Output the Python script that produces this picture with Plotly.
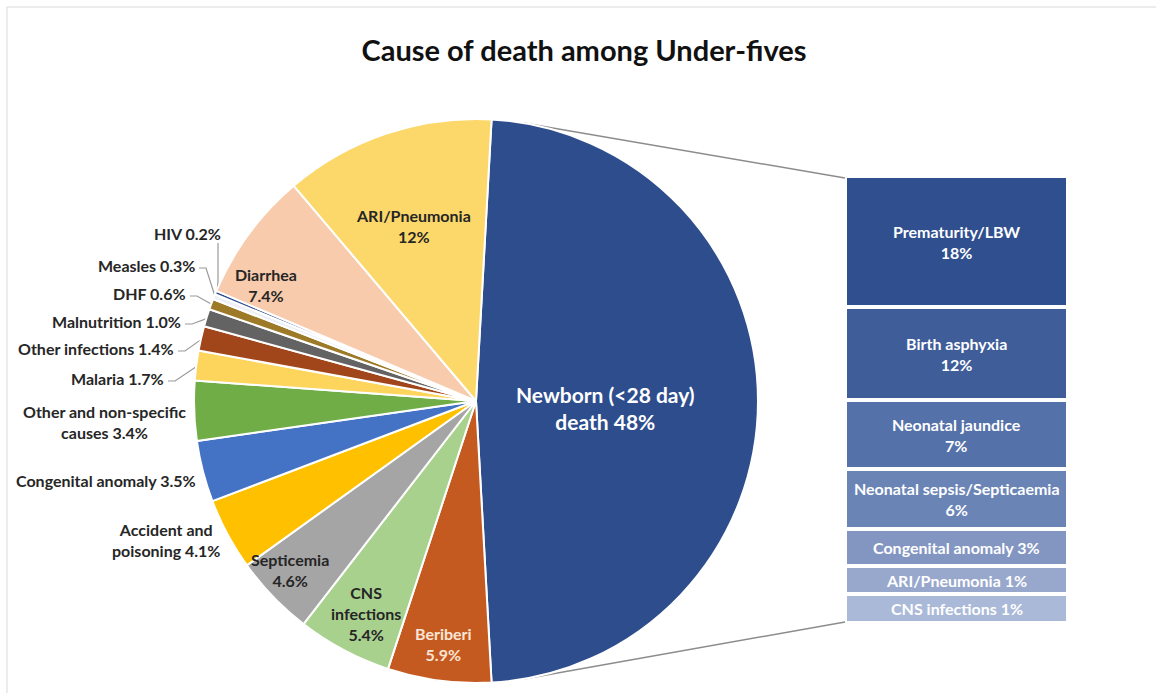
import math
import plotly.graph_objects as go

W, H = 1156, 693

# ---------------- data ----------------
pie_names = ["Newborn (<28 day) death", "Beriberi", "CNS infections", "Septicemia",
             "Accident and poisoning", "Congenital anomaly", "Other and non-specific causes",
             "Malaria", "Other infections", "Malnutrition", "DHF", "Measles", "HIV",
             "Diarrhea", "ARI/Pneumonia"]
pie_values = [48, 5.9, 5.4, 4.6, 4.1, 3.5, 3.4, 1.7, 1.4, 1.0, 0.6, 0.3, 0.2, 7.4, 12]
pie_label_names = ["Newborn (<28 day)<br>death", "Beriberi", "CNS<br>infections", "Septicemia",
                   "Accident and<br>poisoning", "Congenital anomaly", "Other and non-specific<br>causes",
                   "Malaria", "Other infections", "Malnutrition", "DHF", "Measles", "HIV",
                   "Diarrhea", "ARI/Pneumonia"]
pie_colors = ["#2E4D8D", "#C55A20", "#A9D18E", "#A5A5A5", "#FFC000", "#4472C4", "#70AD47",
              "#FDD55C", "#A1461A", "#636363", "#9D7A28", "#EDF0F6", "#2F4F8F", "#F8CBAD", "#FCD86A"]

bar_names = ["Prematurity/LBW", "Birth asphyxia", "Neonatal jaundice", "Neonatal sepsis/Septicaemia",
             "Congenital anomaly", "ARI/Pneumonia", "CNS infections"]
bar_pct = [18, 12, 7, 6, 3, 1, 1]
bar_heights = [14.1, 10.0, 7.4, 6.4, 4.0, 3.0, 3.1]
bar_colors = ["#2F4F8F", "#3E5D99", "#5571A9", "#6A84B6", "#8396C2", "#98A8CD", "#AAB9D8"]

title = "Cause of death among Under-fives"

# ---------------- layout parameters (pixels) ----------------
PIE_CX, PIE_CY, PIE_R = 476, 401, 282
BAR_X0, BAR_X1, BAR_Y0, BAR_Y1 = 845, 1068, 176, 623
FONT = "Lato"
DARK = "#262626"
LBL = 16

# inside labels: index -> (radial fraction, angle offset deg, size, color)
inside_cfg = {
    0: (0.46, -3.0, 21, "white"),
    1: (0.87, 0.0, LBL, "#FBE5D6"),
    2: (0.85, 0.5, LBL, DARK),
    3: (0.89, -1.7, LBL, DARK),
    13: (0.85, 7.4, LBL, DARK),
    14: (0.66, 1.2, LBL, DARK),
}
# outside labels: index -> (x, y, xanchor, leader style)
outside_cfg = {
    12: (223, 233, "right", "down"),
    11: (197, 265, "right", "elbow"),
    10: (188, 293, "right", "elbow"),
    9: (183, 321, "right", "elbow"),
    8: (176, 348, "right", "elbow"),
    7: (166, 378, "right", "elbow"),
    6: (104, 422, "center", None),
    5: (106, 480, "center", None),
    4: (166, 540, "center", None),
}


def fmt_pct(v):
    return f"{v:.0f}%" if v >= 10 else f"{v:.1f}%"


total = sum(pie_values)
fracs = [v / total for v in pie_values]
rotation = 90 - 360 * fracs[0] / 2  # plotly: clockwise from 12 o'clock

start = 90 - rotation
mids = []
cur = start
for f in fracs:
    nxt = cur - 360 * f
    mids.append((cur + nxt) / 2)
    cur = nxt


def on_circle(a_deg, rf=1.0):
    a = math.radians(a_deg)
    return PIE_CX + rf * PIE_R * math.cos(a), PIE_CY - rf * PIE_R * math.sin(a)


fig = go.Figure()

# leader lines
lx, ly = [], []
for i, (tx, ty, anc, style) in outside_cfg.items():
    ex, ey = on_circle(mids[i], 0.995)
    if style == "down":
        lx += [tx - 5, tx - 5, ex, None]
        ly += [ty + 10, ey - 12, ey, None]
    elif style == "elbow":
        lx += [tx + 2, tx + 9, ex, None]
        ly += [ty + 3, ty + 3, ey, None]
fig.add_trace(go.Scatter(x=lx, y=ly, mode="lines", line=dict(color="#9A9A9A", width=1.2),
                         hoverinfo="skip", showlegend=False, xaxis="x", yaxis="y"))

# connector lines (tangent from bar corners to pie circle)
cx_, cy_ = [], []
for (bx, by), sgn in (((BAR_X0, BAR_Y0 + 2), 1), ((BAR_X0, BAR_Y1 - 1), -1)):
    dx, dy = bx - PIE_CX, PIE_CY - by
    d = math.hypot(dx, dy)
    base = math.degrees(math.atan2(dy, dx))
    ang = base + sgn * math.degrees(math.acos(PIE_R / d))
    px, py = on_circle(ang)
    cx_ += [px, bx, None]
    cy_ += [py, by, None]
fig.add_trace(go.Scatter(x=cx_, y=cy_, mode="lines", line=dict(color="#8C8C8C", width=1.5),
                         hoverinfo="skip", showlegend=False, xaxis="x", yaxis="y"))

# bar of pie (stacked)
for n, h, c in zip(bar_names, bar_heights, bar_colors):
    fig.add_trace(go.Bar(x=["Newborn"], y=[h], name=n,
                         marker=dict(color=c, line=dict(color="white", width=4)),
                         hoverinfo="name", showlegend=False, xaxis="x2", yaxis="y2"))

# pie
fig.add_trace(go.Pie(
    labels=pie_names, values=pie_values, sort=False, direction="clockwise", rotation=rotation,
    marker=dict(colors=pie_colors, line=dict(color="white", width=2)),
    textinfo="none", showlegend=False, hoverinfo="label+value",
    domain=dict(x=[(PIE_CX - PIE_R) / W, (PIE_CX + PIE_R) / W],
                y=[(H - PIE_CY - PIE_R) / H, (H - PIE_CY + PIE_R) / H]),
))

annotations = []
for i, (rf, off, size, col) in inside_cfg.items():
    x, y = on_circle(mids[i] + off, rf)
    sep = " " if i == 0 else "<br>"
    annotations.append(dict(x=x, y=y, xref="x", yref="y", showarrow=False,
                            text=f"<b>{pie_label_names[i]}{sep}{fmt_pct(pie_values[i])}</b>",
                            font=dict(family=FONT, size=size, color=col), align="center",
                            xanchor="center", yanchor="middle"))
for i, (tx, ty, anc, style) in outside_cfg.items():
    annotations.append(dict(x=tx, y=ty, xref="x", yref="y", showarrow=False,
                            text=f"<b>{pie_label_names[i]} {fmt_pct(pie_values[i])}</b>",
                            font=dict(family=FONT, size=LBL, color=DARK),
                            align="center", xanchor=anc, yanchor="middle"))

# bar segment labels
cum = 0
for i, (n, p, h) in enumerate(zip(bar_names, bar_pct, bar_heights)):
    sep = "<br>" if i < 4 else " "
    annotations.append(dict(x="Newborn", y=cum + h / 2, xref="x2", yref="y2", showarrow=False,
                            text=f"<b>{n}{sep}{p}%</b>", align="center",
                            font=dict(family=FONT, size=16, color="white"),
                            xanchor="center", yanchor="middle"))
    cum += h

bar_total = sum(bar_heights)
fig.update_layout(
    width=W, height=H, autosize=False,
    margin=dict(l=0, r=0, t=0, b=0),
    paper_bgcolor="white", plot_bgcolor="rgba(0,0,0,0)",
    title=dict(text=f"<b>{title}</b>", x=584 / W, xanchor="center", y=1 - 51 / H, yanchor="middle",
               font=dict(family=FONT, size=29, color="#111111")),
    barmode="stack", bargap=0,
    xaxis=dict(domain=[0, 1], range=[0, W], visible=False, fixedrange=True),
    yaxis=dict(domain=[0, 1], range=[H, 0], visible=False, fixedrange=True),
    xaxis2=dict(domain=[BAR_X0 / W, BAR_X1 / W], visible=False, fixedrange=True, anchor="y2"),
    yaxis2=dict(domain=[(H - BAR_Y1) / H, (H - BAR_Y0) / H], range=[bar_total, 0], visible=False,
                fixedrange=True, anchor="x2"),
    annotations=annotations,
    shapes=[dict(type="rect", xref="paper", yref="paper", x0=7 / W, y0=1 - 7 / H, x1=1.02, y1=-0.02,
                 line=dict(color="#D9D9D9", width=1), fillcolor="rgba(0,0,0,0)", layer="below")],
)

fig.write_html("out.html")
